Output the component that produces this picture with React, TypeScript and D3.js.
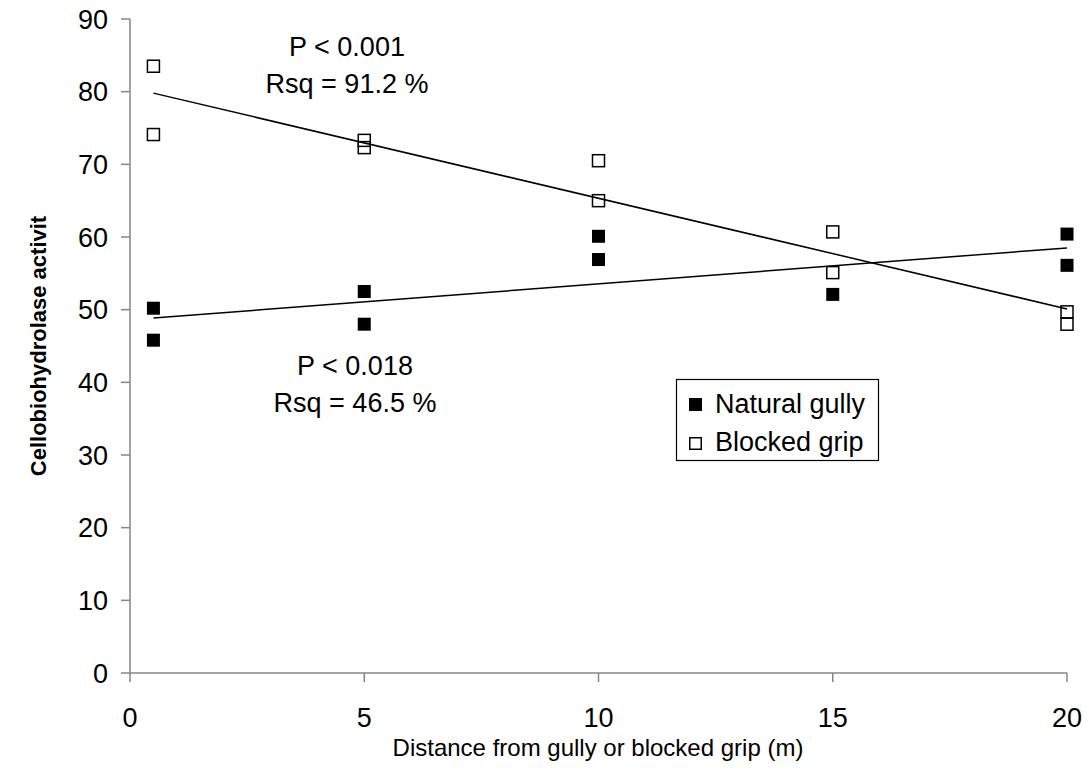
import React from "react";
import * as d3 from "d3";

// ---- data ----
const blockedX = [0.5, 0.5, 5, 5, 10, 10, 15, 15, 20, 20];
const blockedY = [83.5, 74.1, 73.3, 72.3, 70.5, 65.0, 60.7, 55.1, 49.7, 48.0];
const naturalX = [0.5, 0.5, 5, 5, 10, 10, 15, 20, 20];
const naturalY = [50.2, 45.8, 52.5, 48.0, 60.1, 56.9, 52.1, 60.4, 56.1];
const fitX = [0.5, 20];
const blockedFit = [79.8, 50.1];
const naturalFit = [48.85, 58.5];
const xTicks = [0, 5, 10, 15, 20];
const yTicks = [0, 10, 20, 30, 40, 50, 60, 70, 80, 90];
const legendLabels = ["Natural gully", "Blocked grip"];
const annotTop = ["P < 0.001", "Rsq = 91.2 %"];
const annotBottom = ["P < 0.018", "Rsq = 46.5 %"];

const W = 1089;
const H = 784;
const FONT = "Arial, 'Liberation Sans', sans-serif";
const AXIS = "#868686";

export default function App() {
  const x = d3.scaleLinear().domain([0, 20]).range([130, 1067]);
  const y = d3.scaleLinear().domain([0, 90]).range([673, 19]);
  const line = d3
    .line<[number, number]>()
    .x((d) => x(d[0]))
    .y((d) => y(d[1]));
  const bl = fitX.map((v, i) => [v, blockedFit[i]] as [number, number]);
  const nl = fitX.map((v, i) => [v, naturalFit[i]] as [number, number]);
  const S = 13;
  const SH = 12;

  return (
    <svg
      width={W}
      height={H}
      style={{ position: "absolute", left: 0, top: 0, background: "#fff" }}
      fontFamily={FONT}
    >
      <rect x={0} y={0} width={W} height={H} fill="#fff" />
      {/* axes */}
      <line x1={x(0)} x2={x(0)} y1={y(90)} y2={y(0)} stroke={AXIS} strokeWidth={1.5} />
      <line x1={x(0)} x2={x(20)} y1={y(0)} y2={y(0)} stroke={AXIS} strokeWidth={1.5} />
      {yTicks.map((t) => (
        <g key={"y" + t}>
          <line x1={x(0) - 9} x2={x(0)} y1={y(t)} y2={y(t)} stroke={AXIS} strokeWidth={1.5} />
          <text x={108} y={y(t) + 9.5} textAnchor="end" fontSize={27} fill="#000">
            {t}
          </text>
        </g>
      ))}
      {xTicks.map((t) => (
        <g key={"x" + t}>
          <line x1={x(t)} x2={x(t)} y1={y(0)} y2={y(0) + 9} stroke={AXIS} strokeWidth={1.5} />
          <text x={x(t)} y={727} textAnchor="middle" fontSize={27} fill="#000">
            {t}
          </text>
        </g>
      ))}
      <text x={598} y={756} textAnchor="middle" fontSize={24} fill="#000">
        Distance from gully or blocked grip (m)
      </text>
      <text
        transform={`translate(46, 346) rotate(-90)`}
        textAnchor="middle"
        fontSize={22}
        fontWeight="bold"
        fill="#000"
      >
        Cellobiohydrolase activit
      </text>

      {/* trend lines */}
      <path d={line(bl) || ""} fill="none" stroke="#000" strokeWidth={1.5} />
      <path d={line(nl) || ""} fill="none" stroke="#000" strokeWidth={1.5} />

      {/* points */}
      {naturalX.map((v, i) => (
        <rect
          key={"n" + i}
          x={x(v) - S / 2}
          y={y(naturalY[i]) - S / 2}
          width={S}
          height={S}
          fill="#000"
        />
      ))}
      {blockedX.map((v, i) => (
        <rect
          key={"b" + i}
          x={x(v) - SH / 2}
          y={y(blockedY[i]) - SH / 2}
          width={SH}
          height={SH}
          fill="none"
          stroke="#000"
          strokeWidth={1.5}
        />
      ))}

      {/* annotations */}
      {annotTop.map((s, i) => (
        <text key={"at" + i} x={347} y={56 + i * 37} textAnchor="middle" fontSize={27} fill="#000">
          {s}
        </text>
      ))}
      {annotBottom.map((s, i) => (
        <text key={"ab" + i} x={355} y={375 + i * 37} textAnchor="middle" fontSize={27} fill="#000">
          {s}
        </text>
      ))}

      {/* legend */}
      <rect x={676.5} y={379.5} width={202} height={81} fill="#fff" stroke="#000" strokeWidth={1.2} />
      <rect x={689} y={398} width={13} height={13} fill="#000" />
      <rect x={689.75} y={437.75} width={11.5} height={11.5} fill="#fff" stroke="#000" strokeWidth={1.5} />
      {legendLabels.map((s, i) => (
        <text key={"l" + i} x={715} y={413 + i * 38} fontSize={27} fill="#000">
          {s}
        </text>
      ))}
    </svg>
  );
}
